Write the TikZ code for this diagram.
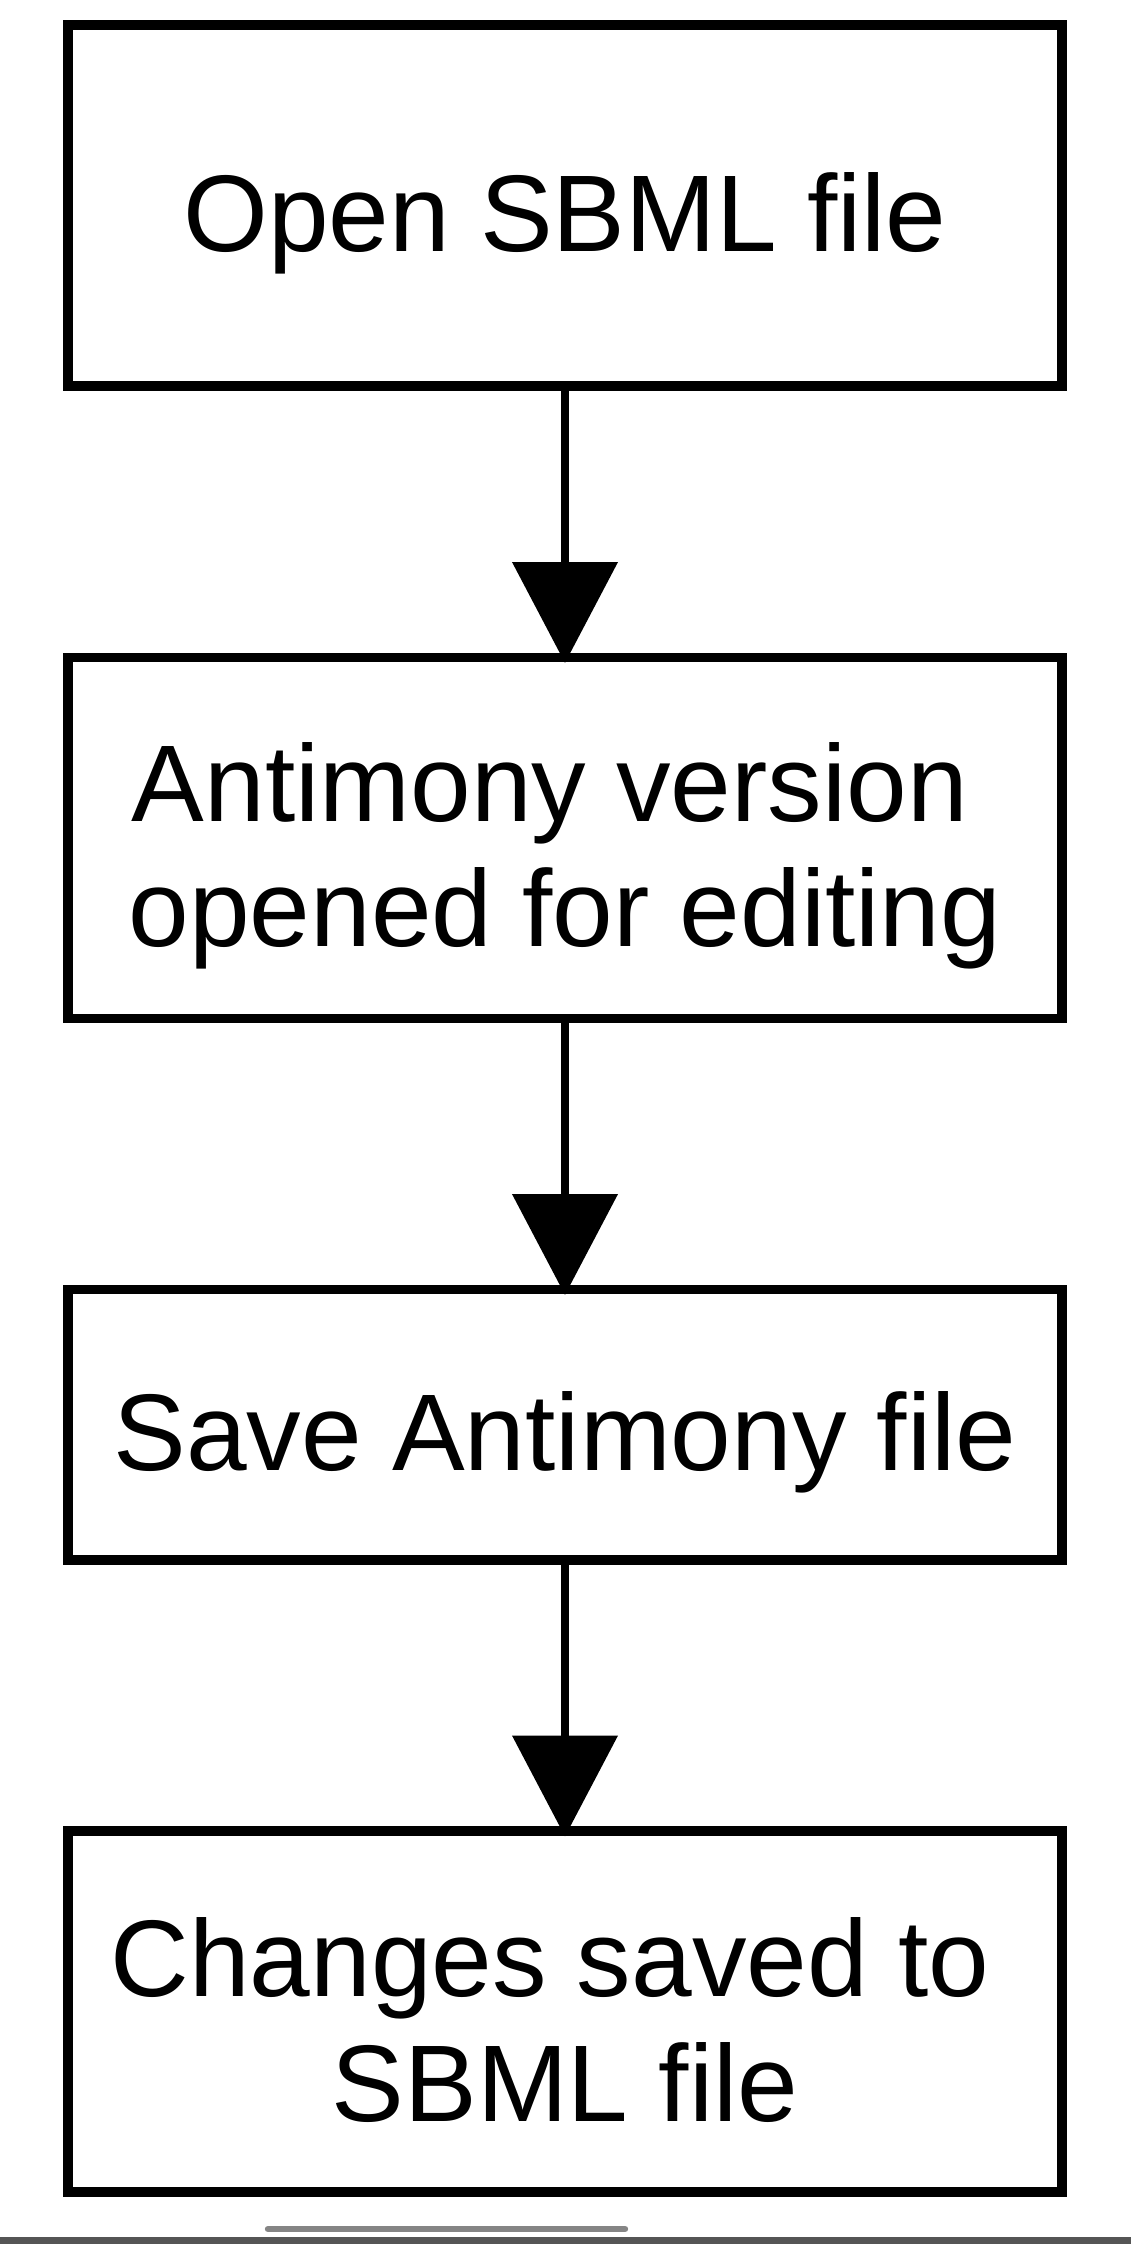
\documentclass[tikz,border=0pt]{standalone}
\usepackage{fontspec}
\setmainfont{Liberation Sans}
\usetikzlibrary{arrows.meta}
\definecolor{bargray}{HTML}{858585}
\definecolor{stripgray}{HTML}{555555}
\begin{document}
\begin{tikzpicture}[x=0.5pt,y=-0.5pt,
  stepbox/.style={draw=black, line width=4.7pt, minimum width=497pt, outer sep=0pt, inner sep=0pt},
  tallbox/.style={minimum height=180.5pt},
  shortbox/.style={minimum height=135.25pt},
  lbl/.style={anchor=base, inner sep=0pt, font=\fontsize{54.5pt}{62.5pt}\selectfont},
  flow/.style={line width=4pt, -{Triangle[width=52pt,length=50.5pt]}, shorten >=-2.75pt}]
\useasboundingbox (0,0) rectangle (1131,2244);
\node[stepbox,tallbox] (b1) at (565,205.5) {};
\node[stepbox,tallbox] (b2) at (565,838) {};
\node[stepbox,shortbox] (b3) at (565,1424.75) {};
\node[stepbox,tallbox] (b4) at (565,2011.5) {};
\node[lbl] (t1) at (565,251) {Open SBML file};
\node[lbl] (t2a) at (565,821) {Antimony version\ \null};
\node[lbl] (t2b) at (565,946) {opened for editing};
\node[lbl] (t3) at (565,1470) {Save Antimony file};
\node[lbl] (t4a) at (565,1996) {Changes saved to\ \null};
\node[lbl] (t4b) at (565,2121) {SBML file};
\draw[flow] (b1.south) -- (b2.north);
\draw[flow] (b2.south) -- (b3.north);
\draw[flow] (b3.south) -- (b4.north);
\draw[bargray, line width=3.2pt, line cap=round] (268,2229) -- (625,2229);
\fill[stripgray] (0,2237) rectangle (1131,2244);
\end{tikzpicture}
\end{document}
